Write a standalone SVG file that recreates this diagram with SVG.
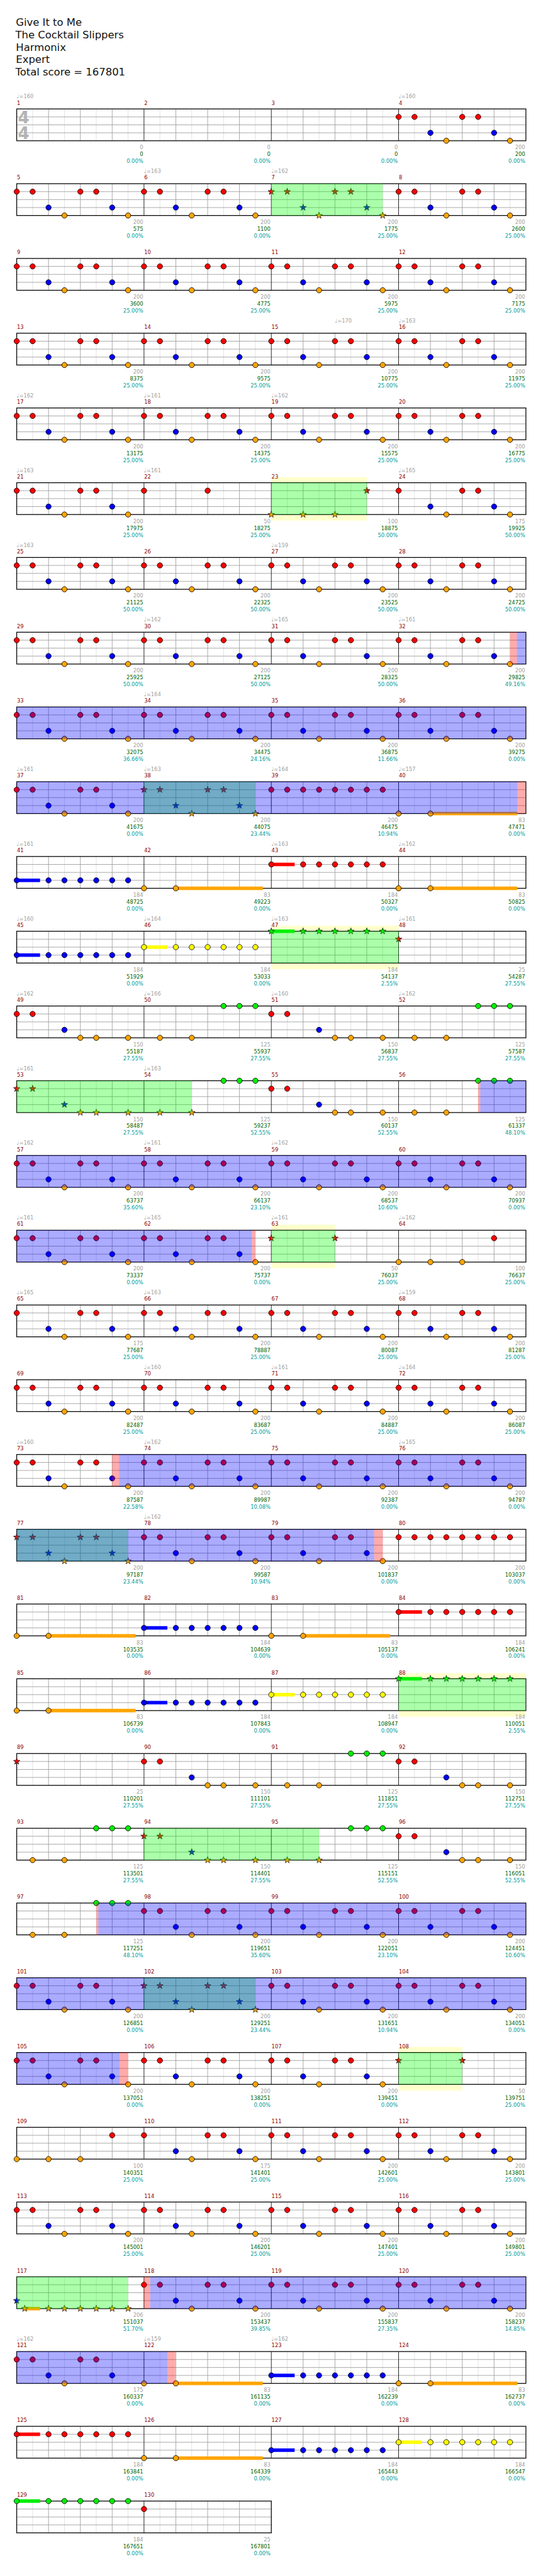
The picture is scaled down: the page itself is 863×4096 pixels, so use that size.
<svg xmlns="http://www.w3.org/2000/svg" width="863" height="4096" viewBox="0 0 863 4096">
<style>
text{font-family:"DejaVu Sans Condensed","DejaVu Sans",sans-serif;font-size:11px}
.ti{font-family:"DejaVu Sans",sans-serif;font-size:19.5px;fill:#111}
.m{fill:#8b0000}
.t{fill:#a0a0a0}
.g{fill:#a0a0a0;text-anchor:end}
.s{fill:#006400;text-anchor:end}
.p{fill:#009c9c;text-anchor:end}
.ts{font-family:"DejaVu Sans",sans-serif;font-size:31px;font-weight:bold;fill:#b4b4b4;text-anchor:middle}
.bl{fill:#00f;fill-opacity:.33}
.gr{fill:#0f0;fill-opacity:.33}
.pk{fill:#f00;fill-opacity:.33}
.ye{fill:#ff0;fill-opacity:.2}
</style>
<defs>
<g id="staff">
<rect x="31.5" y="0" width="960" height="60" fill="#fff"/>
<path d="M61.5 0V60M121.5 0V60M181.5 0V60M241.5 0V60M301.5 0V60M361.5 0V60M421.5 0V60M481.5 0V60M541.5 0V60M601.5 0V60M661.5 0V60M721.5 0V60M781.5 0V60M841.5 0V60M901.5 0V60M961.5 0V60" stroke="#ddd" fill="none"/>
<path d="M91.5 0V60M151.5 0V60M211.5 0V60M331.5 0V60M391.5 0V60M451.5 0V60M571.5 0V60M631.5 0V60M691.5 0V60M811.5 0V60M871.5 0V60M931.5 0V60" stroke="#999" fill="none"/>
<path d="M31.5 15H991.5M31.5 30H991.5M31.5 45H991.5" stroke="#999" fill="none"/>
<path d="M271.5 0V60M511.5 0V60M751.5 0V60" stroke="#000" fill="none"/>
<rect x="31.5" y="0" width="960" height="60" fill="none" stroke="#000" stroke-width="1.5"/>
</g>
<g id="staff2">
<rect x="31.5" y="0" width="480" height="60" fill="#fff"/>
<path d="M61.5 0V60M121.5 0V60M181.5 0V60M241.5 0V60M301.5 0V60M361.5 0V60M421.5 0V60M481.5 0V60" stroke="#ddd" fill="none"/>
<path d="M91.5 0V60M151.5 0V60M211.5 0V60M331.5 0V60M391.5 0V60M451.5 0V60" stroke="#999" fill="none"/>
<path d="M31.5 15H511.5M31.5 30H511.5M31.5 45H511.5" stroke="#999" fill="none"/>
<path d="M271.5 0V60" stroke="#000" fill="none"/>
<rect x="31.5" y="0" width="480" height="60" fill="none" stroke="#000" stroke-width="1.5"/>
</g>
<circle id="R" cy="15" r="5" fill="#f00" stroke="#000"/>
<circle id="Y" cy="30" r="5" fill="#ff0" stroke="#000"/>
<circle id="B" cy="45" r="5" fill="#00f" stroke="#000"/>
<circle id="O" cy="60" r="5" fill="#ffa500" stroke="#000"/>
<circle id="G" cy="0" r="5" fill="#0e0" stroke="#000"/>
<polygon id="st" points="0,-6.5 1.53,-2.1 6.18,-2.01 2.47,0.8 3.82,5.26 0,2.6 -3.82,5.26 -2.47,0.8 -6.18,-2.01 -1.53,-2.1" stroke="#000" stroke-width=".8"/>
<use id="SR" href="#st" y="15" fill="#f00"/>
<use id="SY" href="#st" y="30" fill="#ff0"/>
<use id="SB" href="#st" y="45" fill="#00f"/>
<use id="SO" href="#st" y="60" fill="#ffa500"/>
<use id="SG" href="#st" y="0" fill="#0e0"/>
<g id="A"><use href="#R"/><use href="#R" x="30"/><use href="#B" x="60"/><use href="#O" x="90"/><use href="#R" x="120"/><use href="#R" x="150"/><use href="#B" x="180"/><use href="#O" x="210"/></g>
<g id="A7"><use href="#R"/><use href="#B" x="60"/><use href="#O" x="90"/><use href="#R" x="120"/><use href="#R" x="150"/><use href="#B" x="180"/><use href="#O" x="210"/></g>
<g id="AS"><use href="#SR"/><use href="#SR" x="30"/><use href="#SB" x="60"/><use href="#SO" x="90"/><use href="#SR" x="120"/><use href="#SR" x="150"/><use href="#SB" x="180"/><use href="#SO" x="210"/></g>
<g id="R8"><use href="#R"/><use href="#R" x="30"/><use href="#R" x="60"/><use href="#R" x="90"/><use href="#R" x="120"/><use href="#R" x="150"/><use href="#R" x="180"/><use href="#R" x="210"/></g>
<g id="BR"><rect x="0" y="41.7" width="44" height="6.6" fill="#00f"/><use href="#B"/><use href="#B" x="60"/><use href="#B" x="90"/><use href="#B" x="120"/><use href="#B" x="150"/><use href="#B" x="180"/><use href="#B" x="210"/></g>
<g id="RR"><rect x="0" y="11.7" width="44" height="6.6" fill="#f00"/><use href="#R"/><use href="#R" x="60"/><use href="#R" x="90"/><use href="#R" x="120"/><use href="#R" x="150"/><use href="#R" x="180"/><use href="#R" x="210"/></g>
<g id="YR"><rect x="0" y="26.7" width="44" height="6.6" fill="#ff0"/><use href="#Y"/><use href="#Y" x="60"/><use href="#Y" x="90"/><use href="#Y" x="120"/><use href="#Y" x="150"/><use href="#Y" x="180"/><use href="#Y" x="210"/></g>
<g id="GSR"><rect x="0" y="-3.3" width="44" height="6.6" fill="#0e0"/><use href="#SG"/><use href="#SG" x="60"/><use href="#SG" x="90"/><use href="#SG" x="120"/><use href="#SG" x="150"/><use href="#SG" x="180"/><use href="#SG" x="210"/></g>
<g id="GRL"><rect x="0" y="-3.3" width="44" height="6.6" fill="#0e0"/><use href="#G"/><use href="#G" x="60"/><use href="#G" x="90"/><use href="#G" x="120"/><use href="#G" x="150"/><use href="#G" x="180"/><use href="#G" x="210"/></g>
<g id="OS"><rect x="60" y="56.7" width="164" height="6.6" fill="#ffa500"/><use href="#O"/><use href="#O" x="60"/></g>
<g id="P1"><use href="#R"/><use href="#R" x="30"/><use href="#B" x="90"/><use href="#O" x="120"/><use href="#O" x="150"/><use href="#O" x="210"/></g>
<g id="P2"><use href="#O" x="30"/><use href="#O" x="90"/><use href="#G" x="150"/><use href="#G" x="180"/><use href="#G" x="210"/></g>
<g id="P1S"><use href="#SR"/><use href="#SR" x="30"/><use href="#SB" x="90"/><use href="#SO" x="120"/><use href="#SO" x="150"/><use href="#SO" x="210"/></g>
<g id="P2S"><use href="#SO" x="30"/><use href="#SO" x="90"/><use href="#G" x="150"/><use href="#G" x="180"/><use href="#G" x="210"/></g>
<g id="OOOR"><use href="#O"/><use href="#O" x="60"/><use href="#O" x="120"/><use href="#R" x="180"/></g>
</defs>
<g transform="scale(0.843)">
<rect x="0" y="0" width="1024" height="4858" fill="#fff"/>
<g id="header">
<text class="ti" x="30" y="49">Give It to Me</text>
<text class="ti" x="29" y="72.5">The Cocktail Slippers</text>
<text class="ti" x="30" y="96">Harmonix</text>
<text class="ti" x="30" y="119">Expert</text>
<text class="ti" x="29" y="142.5">Total score = 167801</text>
</g>

<g id="row1" transform="translate(0,205.5)">
<use href="#staff"/>
<text class="ts" x="44.5" y="27">4</text><text class="ts" x="44.5" y="57">4</text>
<use href="#A" x="751.5"/>
<text class="t" x="31.5" y="-20">♩=160</text><text class="t" x="751.5" y="-20">♩=160</text>
<text class="m" x="32" y="-8">1</text><text class="m" x="272" y="-8">2</text><text class="m" x="512" y="-8">3</text><text class="m" x="752" y="-8">4</text>
<text class="g" x="270" y="76">0</text><text class="s" x="270" y="89">0</text><text class="p" x="270" y="102">0.00%</text>
<text class="g" x="510" y="76">0</text><text class="s" x="510" y="89">0</text><text class="p" x="510" y="102">0.00%</text>
<text class="g" x="750" y="76">0</text><text class="s" x="750" y="89">0</text><text class="p" x="750" y="102">0.00%</text>
<text class="g" x="990" y="76">200</text><text class="s" x="990" y="89">200</text><text class="p" x="990" y="102">0.00%</text>
</g>

<g id="row2" transform="translate(0,346.5)">
<use href="#staff"/>
<use href="#A" x="31.5"/><use href="#A" x="271.5"/><use href="#AS" x="511.5"/><use href="#A" x="751.5"/>
<rect class="gr" x="511.5" y="0" width="210" height="60"/>
<text class="t" x="271.5" y="-20">♩=163</text><text class="t" x="511.5" y="-20">♩=162</text>
<text class="m" x="32" y="-8">5</text><text class="m" x="272" y="-8">6</text><text class="m" x="512" y="-8">7</text><text class="m" x="752" y="-8">8</text>
<text class="g" x="270" y="76">200</text><text class="s" x="270" y="89">575</text><text class="p" x="270" y="102">0.00%</text>
<text class="g" x="510" y="76">200</text><text class="s" x="510" y="89">1100</text><text class="p" x="510" y="102">0.00%</text>
<text class="g" x="750" y="76">200</text><text class="s" x="750" y="89">1775</text><text class="p" x="750" y="102">25.00%</text>
<text class="g" x="990" y="76">200</text><text class="s" x="990" y="89">2600</text><text class="p" x="990" y="102">25.00%</text>
</g>

<g id="row3" transform="translate(0,487.5)">
<use href="#staff"/>
<use href="#A" x="31.5"/><use href="#A" x="271.5"/><use href="#A" x="511.5"/><use href="#A" x="751.5"/>
<text class="m" x="32" y="-8">9</text><text class="m" x="272" y="-8">10</text><text class="m" x="512" y="-8">11</text><text class="m" x="752" y="-8">12</text>
<text class="g" x="270" y="76">200</text><text class="s" x="270" y="89">3600</text><text class="p" x="270" y="102">25.00%</text>
<text class="g" x="510" y="76">200</text><text class="s" x="510" y="89">4775</text><text class="p" x="510" y="102">25.00%</text>
<text class="g" x="750" y="76">200</text><text class="s" x="750" y="89">5975</text><text class="p" x="750" y="102">25.00%</text>
<text class="g" x="990" y="76">200</text><text class="s" x="990" y="89">7175</text><text class="p" x="990" y="102">25.00%</text>
</g>

<g id="row4" transform="translate(0,628.5)">
<use href="#staff"/>
<use href="#A" x="31.5"/><use href="#A" x="271.5"/><use href="#A" x="511.5"/><use href="#A" x="751.5"/>
<text class="t" x="631.5" y="-20">♩=170</text><text class="t" x="751.5" y="-20">♩=163</text>
<text class="m" x="32" y="-8">13</text><text class="m" x="272" y="-8">14</text><text class="m" x="512" y="-8">15</text><text class="m" x="752" y="-8">16</text>
<text class="g" x="270" y="76">200</text><text class="s" x="270" y="89">8375</text><text class="p" x="270" y="102">25.00%</text>
<text class="g" x="510" y="76">200</text><text class="s" x="510" y="89">9575</text><text class="p" x="510" y="102">25.00%</text>
<text class="g" x="750" y="76">200</text><text class="s" x="750" y="89">10775</text><text class="p" x="750" y="102">25.00%</text>
<text class="g" x="990" y="76">200</text><text class="s" x="990" y="89">11975</text><text class="p" x="990" y="102">25.00%</text>
</g>

<g id="row5" transform="translate(0,769.5)">
<use href="#staff"/>
<use href="#A" x="31.5"/><use href="#A" x="271.5"/><use href="#A" x="511.5"/><use href="#A" x="751.5"/>
<text class="t" x="31.5" y="-20">♩=162</text><text class="t" x="271.5" y="-20">♩=161</text><text class="t" x="511.5" y="-20">♩=162</text>
<text class="m" x="32" y="-8">17</text><text class="m" x="272" y="-8">18</text><text class="m" x="512" y="-8">19</text><text class="m" x="752" y="-8">20</text>
<text class="g" x="270" y="76">200</text><text class="s" x="270" y="89">13175</text><text class="p" x="270" y="102">25.00%</text>
<text class="g" x="510" y="76">200</text><text class="s" x="510" y="89">14375</text><text class="p" x="510" y="102">25.00%</text>
<text class="g" x="750" y="76">200</text><text class="s" x="750" y="89">15575</text><text class="p" x="750" y="102">25.00%</text>
<text class="g" x="990" y="76">200</text><text class="s" x="990" y="89">16775</text><text class="p" x="990" y="102">25.00%</text>
</g>

<g id="row6" transform="translate(0,910.5)">
<rect class="ye" x="511.5" y="-10.5" width="180" height="82"/>
<use href="#staff"/>
<use href="#A" x="31.5"/>
<use href="#R" x="271.5"/><use href="#R" x="391.5"/>
<use href="#SO" x="511.5"/><use href="#SO" x="571.5"/><use href="#SO" x="631.5"/><use href="#SR" x="691.5"/>
<use href="#A7" x="751.5"/>
<rect class="gr" x="511.5" y="0" width="180" height="60"/>
<text class="t" x="31.5" y="-20">♩=163</text><text class="t" x="271.5" y="-20">♩=161</text><text class="t" x="751.5" y="-20">♩=165</text>
<text class="m" x="32" y="-8">21</text><text class="m" x="272" y="-8">22</text><text class="m" x="512" y="-8">23</text><text class="m" x="752" y="-8">24</text>
<text class="g" x="270" y="76">200</text><text class="s" x="270" y="89">17975</text><text class="p" x="270" y="102">25.00%</text>
<text class="g" x="510" y="76">50</text><text class="s" x="510" y="89">18275</text><text class="p" x="510" y="102">25.00%</text>
<text class="g" x="750" y="76">100</text><text class="s" x="750" y="89">18875</text><text class="p" x="750" y="102">50.00%</text>
<text class="g" x="990" y="76">175</text><text class="s" x="990" y="89">19925</text><text class="p" x="990" y="102">50.00%</text>
</g>

<g id="row7" transform="translate(0,1051.5)">
<use href="#staff"/>
<use href="#A" x="31.5"/><use href="#A" x="271.5"/><use href="#A" x="511.5"/><use href="#A" x="751.5"/>
<text class="t" x="31.5" y="-20">♩=163</text><text class="t" x="511.5" y="-20">♩=159</text>
<text class="m" x="32" y="-8">25</text><text class="m" x="272" y="-8">26</text><text class="m" x="512" y="-8">27</text><text class="m" x="752" y="-8">28</text>
<text class="g" x="270" y="76">200</text><text class="s" x="270" y="89">21125</text><text class="p" x="270" y="102">50.00%</text>
<text class="g" x="510" y="76">200</text><text class="s" x="510" y="89">22325</text><text class="p" x="510" y="102">50.00%</text>
<text class="g" x="750" y="76">200</text><text class="s" x="750" y="89">23525</text><text class="p" x="750" y="102">50.00%</text>
<text class="g" x="990" y="76">200</text><text class="s" x="990" y="89">24725</text><text class="p" x="990" y="102">50.00%</text>
</g>

<g id="row8" transform="translate(0,1192.5)">
<use href="#staff"/>
<use href="#A" x="31.5"/><use href="#A" x="271.5"/><use href="#A" x="511.5"/><use href="#A" x="751.5"/>
<rect class="pk" x="961.5" y="0" width="13" height="60"/><rect class="bl" x="974.5" y="0" width="17" height="60"/>
<text class="t" x="271.5" y="-20">♩=162</text><text class="t" x="511.5" y="-20">♩=165</text><text class="t" x="751.5" y="-20">♩=161</text>
<text class="m" x="32" y="-8">29</text><text class="m" x="272" y="-8">30</text><text class="m" x="512" y="-8">31</text><text class="m" x="752" y="-8">32</text>
<text class="g" x="270" y="76">200</text><text class="s" x="270" y="89">25925</text><text class="p" x="270" y="102">50.00%</text>
<text class="g" x="510" y="76">200</text><text class="s" x="510" y="89">27125</text><text class="p" x="510" y="102">50.00%</text>
<text class="g" x="750" y="76">200</text><text class="s" x="750" y="89">28325</text><text class="p" x="750" y="102">50.00%</text>
<text class="g" x="990" y="76">200</text><text class="s" x="990" y="89">29825</text><text class="p" x="990" y="102">49.16%</text>
</g>

<g id="row9" transform="translate(0,1333.5)">
<use href="#staff"/>
<use href="#A" x="31.5"/><use href="#A" x="271.5"/><use href="#A" x="511.5"/><use href="#A" x="751.5"/>
<rect class="bl" x="31.5" y="0" width="960" height="60"/>
<text class="t" x="271.5" y="-20">♩=164</text>
<text class="m" x="32" y="-8">33</text><text class="m" x="272" y="-8">34</text><text class="m" x="512" y="-8">35</text><text class="m" x="752" y="-8">36</text>
<text class="g" x="270" y="76">200</text><text class="s" x="270" y="89">32075</text><text class="p" x="270" y="102">36.66%</text>
<text class="g" x="510" y="76">200</text><text class="s" x="510" y="89">34475</text><text class="p" x="510" y="102">24.16%</text>
<text class="g" x="750" y="76">200</text><text class="s" x="750" y="89">36875</text><text class="p" x="750" y="102">11.66%</text>
<text class="g" x="990" y="76">200</text><text class="s" x="990" y="89">39275</text><text class="p" x="990" y="102">0.00%</text>
</g>

<g id="row10" transform="translate(0,1474.5)">
<use href="#staff"/>
<use href="#A" x="31.5"/><use href="#AS" x="271.5"/><use href="#R8" x="511.5"/>
<rect x="811.5" y="56.7" width="164" height="6.6" fill="#ffa500"/><use href="#O" x="751.5"/><use href="#O" x="811.5"/>
<rect class="gr" x="271.5" y="0" width="210" height="60"/>
<rect class="bl" x="31.5" y="0" width="944" height="60"/>
<rect class="pk" x="975.5" y="0" width="16" height="60"/>
<text class="t" x="31.5" y="-20">♩=161</text><text class="t" x="271.5" y="-20">♩=163</text><text class="t" x="511.5" y="-20">♩=164</text><text class="t" x="751.5" y="-20">♩=157</text>
<text class="m" x="32" y="-8">37</text><text class="m" x="272" y="-8">38</text><text class="m" x="512" y="-8">39</text><text class="m" x="752" y="-8">40</text>
<text class="g" x="270" y="76">200</text><text class="s" x="270" y="89">41675</text><text class="p" x="270" y="102">0.00%</text>
<text class="g" x="510" y="76">200</text><text class="s" x="510" y="89">44075</text><text class="p" x="510" y="102">23.44%</text>
<text class="g" x="750" y="76">200</text><text class="s" x="750" y="89">46475</text><text class="p" x="750" y="102">10.94%</text>
<text class="g" x="990" y="76">83</text><text class="s" x="990" y="89">47471</text><text class="p" x="990" y="102">0.00%</text>
</g>

<g id="row11" transform="translate(0,1615.5)">
<use href="#staff"/>
<use href="#BR" x="31.5"/><use href="#OS" x="271.5"/><use href="#RR" x="511.5"/><use href="#OS" x="751.5"/>
<text class="t" x="31.5" y="-20">♩=161</text><text class="t" x="511.5" y="-20">♩=163</text><text class="t" x="751.5" y="-20">♩=162</text>
<text class="m" x="32" y="-8">41</text><text class="m" x="272" y="-8">42</text><text class="m" x="512" y="-8">43</text><text class="m" x="752" y="-8">44</text>
<text class="g" x="270" y="76">184</text><text class="s" x="270" y="89">48725</text><text class="p" x="270" y="102">0.00%</text>
<text class="g" x="510" y="76">83</text><text class="s" x="510" y="89">49223</text><text class="p" x="510" y="102">0.00%</text>
<text class="g" x="750" y="76">184</text><text class="s" x="750" y="89">50327</text><text class="p" x="750" y="102">0.00%</text>
<text class="g" x="990" y="76">83</text><text class="s" x="990" y="89">50825</text><text class="p" x="990" y="102">0.00%</text>
</g>

<g id="row12" transform="translate(0,1756.5)">
<rect class="ye" x="511.5" y="-10.5" width="240" height="82"/>
<use href="#staff"/>
<use href="#BR" x="31.5"/><use href="#YR" x="271.5"/><use href="#GSR" x="511.5"/><use href="#SR" x="751.5"/>
<rect class="gr" x="511.5" y="0" width="240" height="60"/>
<text class="t" x="31.5" y="-20">♩=160</text><text class="t" x="271.5" y="-20">♩=164</text><text class="t" x="511.5" y="-20">♩=163</text><text class="t" x="751.5" y="-20">♩=161</text>
<text class="m" x="32" y="-8">45</text><text class="m" x="272" y="-8">46</text><text class="m" x="512" y="-8">47</text><text class="m" x="752" y="-8">48</text>
<text class="g" x="270" y="76">184</text><text class="s" x="270" y="89">51929</text><text class="p" x="270" y="102">0.00%</text>
<text class="g" x="510" y="76">184</text><text class="s" x="510" y="89">53033</text><text class="p" x="510" y="102">0.00%</text>
<text class="g" x="750" y="76">184</text><text class="s" x="750" y="89">54137</text><text class="p" x="750" y="102">2.55%</text>
<text class="g" x="990" y="76">25</text><text class="s" x="990" y="89">54287</text><text class="p" x="990" y="102">27.55%</text>
</g>

<g id="row13" transform="translate(0,1897.5)">
<use href="#staff"/>
<use href="#P1" x="31.5"/><use href="#P2" x="271.5"/><use href="#P1" x="511.5"/><use href="#P2" x="751.5"/>
<text class="t" x="31.5" y="-20">♩=162</text><text class="t" x="271.5" y="-20">♩=166</text><text class="t" x="511.5" y="-20">♩=160</text><text class="t" x="751.5" y="-20">♩=162</text>
<text class="m" x="32" y="-8">49</text><text class="m" x="272" y="-8">50</text><text class="m" x="512" y="-8">51</text><text class="m" x="752" y="-8">52</text>
<text class="g" x="270" y="76">150</text><text class="s" x="270" y="89">55187</text><text class="p" x="270" y="102">27.55%</text>
<text class="g" x="510" y="76">125</text><text class="s" x="510" y="89">55937</text><text class="p" x="510" y="102">27.55%</text>
<text class="g" x="750" y="76">150</text><text class="s" x="750" y="89">56837</text><text class="p" x="750" y="102">27.55%</text>
<text class="g" x="990" y="76">125</text><text class="s" x="990" y="89">57587</text><text class="p" x="990" y="102">27.55%</text>
</g>

<g id="row14" transform="translate(0,2038.5)">
<use href="#staff"/>
<use href="#P1S" x="31.5"/><use href="#P2S" x="271.5"/><use href="#P1" x="511.5"/><use href="#P2" x="751.5"/>
<rect class="gr" x="31.5" y="0" width="330" height="60"/>
<rect class="pk" x="901.5" y="0" width="4" height="60"/><rect class="bl" x="905.5" y="0" width="86" height="60"/>
<text class="t" x="31.5" y="-20">♩=161</text><text class="t" x="271.5" y="-20">♩=163</text>
<text class="m" x="32" y="-8">53</text><text class="m" x="272" y="-8">54</text><text class="m" x="512" y="-8">55</text><text class="m" x="752" y="-8">56</text>
<text class="g" x="270" y="76">150</text><text class="s" x="270" y="89">58487</text><text class="p" x="270" y="102">27.55%</text>
<text class="g" x="510" y="76">125</text><text class="s" x="510" y="89">59237</text><text class="p" x="510" y="102">52.55%</text>
<text class="g" x="750" y="76">150</text><text class="s" x="750" y="89">60137</text><text class="p" x="750" y="102">52.55%</text>
<text class="g" x="990" y="76">125</text><text class="s" x="990" y="89">61337</text><text class="p" x="990" y="102">48.10%</text>
</g>

<g id="row15" transform="translate(0,2179.5)">
<use href="#staff"/>
<use href="#A" x="31.5"/><use href="#A" x="271.5"/><use href="#A" x="511.5"/><use href="#A" x="751.5"/>
<rect class="bl" x="31.5" y="0" width="960" height="60"/>
<text class="t" x="31.5" y="-20">♩=162</text><text class="t" x="271.5" y="-20">♩=161</text><text class="t" x="511.5" y="-20">♩=162</text>
<text class="m" x="32" y="-8">57</text><text class="m" x="272" y="-8">58</text><text class="m" x="512" y="-8">59</text><text class="m" x="752" y="-8">60</text>
<text class="g" x="270" y="76">200</text><text class="s" x="270" y="89">63737</text><text class="p" x="270" y="102">35.60%</text>
<text class="g" x="510" y="76">200</text><text class="s" x="510" y="89">66137</text><text class="p" x="510" y="102">23.10%</text>
<text class="g" x="750" y="76">200</text><text class="s" x="750" y="89">68537</text><text class="p" x="750" y="102">10.60%</text>
<text class="g" x="990" y="76">200</text><text class="s" x="990" y="89">70937</text><text class="p" x="990" y="102">0.00%</text>
</g>

<g id="row16" transform="translate(0,2320.5)">
<rect class="ye" x="511.5" y="-10.5" width="120" height="82"/>
<use href="#staff"/>
<use href="#A" x="31.5"/><use href="#A" x="271.5"/>
<use href="#SR" x="511.5"/><use href="#SR" x="631.5"/>
<use href="#OOOR" x="751.5"/>
<rect class="bl" x="31.5" y="0" width="443.5" height="60"/><rect class="pk" x="475" y="0" width="6.5" height="60"/>
<rect class="gr" x="511.5" y="0" width="120" height="60"/>
<text class="t" x="31.5" y="-20">♩=161</text><text class="t" x="271.5" y="-20">♩=165</text><text class="t" x="511.5" y="-20">♩=161</text><text class="t" x="751.5" y="-20">♩=162</text>
<text class="m" x="32" y="-8">61</text><text class="m" x="272" y="-8">62</text><text class="m" x="512" y="-8">63</text><text class="m" x="752" y="-8">64</text>
<text class="g" x="270" y="76">200</text><text class="s" x="270" y="89">73337</text><text class="p" x="270" y="102">0.00%</text>
<text class="g" x="510" y="76">200</text><text class="s" x="510" y="89">75737</text><text class="p" x="510" y="102">0.00%</text>
<text class="g" x="750" y="76">50</text><text class="s" x="750" y="89">76037</text><text class="p" x="750" y="102">25.00%</text>
<text class="g" x="990" y="76">100</text><text class="s" x="990" y="89">76637</text><text class="p" x="990" y="102">25.00%</text>
</g>

<g id="row17" transform="translate(0,2461.5)">
<use href="#staff"/>
<use href="#A7" x="31.5"/><use href="#A" x="271.5"/><use href="#A" x="511.5"/><use href="#A" x="751.5"/>
<text class="t" x="31.5" y="-20">♩=165</text><text class="t" x="271.5" y="-20">♩=163</text><text class="t" x="751.5" y="-20">♩=159</text>
<text class="m" x="32" y="-8">65</text><text class="m" x="272" y="-8">66</text><text class="m" x="512" y="-8">67</text><text class="m" x="752" y="-8">68</text>
<text class="g" x="270" y="76">175</text><text class="s" x="270" y="89">77687</text><text class="p" x="270" y="102">25.00%</text>
<text class="g" x="510" y="76">200</text><text class="s" x="510" y="89">78887</text><text class="p" x="510" y="102">25.00%</text>
<text class="g" x="750" y="76">200</text><text class="s" x="750" y="89">80087</text><text class="p" x="750" y="102">25.00%</text>
<text class="g" x="990" y="76">200</text><text class="s" x="990" y="89">81287</text><text class="p" x="990" y="102">25.00%</text>
</g>

<g id="row18" transform="translate(0,2602.5)">
<use href="#staff"/>
<use href="#A" x="31.5"/><use href="#A" x="271.5"/><use href="#A" x="511.5"/><use href="#A" x="751.5"/>
<text class="t" x="271.5" y="-20">♩=160</text><text class="t" x="511.5" y="-20">♩=161</text><text class="t" x="751.5" y="-20">♩=164</text>
<text class="m" x="32" y="-8">69</text><text class="m" x="272" y="-8">70</text><text class="m" x="512" y="-8">71</text><text class="m" x="752" y="-8">72</text>
<text class="g" x="270" y="76">200</text><text class="s" x="270" y="89">82487</text><text class="p" x="270" y="102">25.00%</text>
<text class="g" x="510" y="76">200</text><text class="s" x="510" y="89">83687</text><text class="p" x="510" y="102">25.00%</text>
<text class="g" x="750" y="76">200</text><text class="s" x="750" y="89">84887</text><text class="p" x="750" y="102">25.00%</text>
<text class="g" x="990" y="76">200</text><text class="s" x="990" y="89">86087</text><text class="p" x="990" y="102">25.00%</text>
</g>

<g id="row19" transform="translate(0,2743.5)">
<use href="#staff"/>
<use href="#A" x="31.5"/><use href="#A" x="271.5"/><use href="#A" x="511.5"/><use href="#A" x="751.5"/>
<rect class="pk" x="211.5" y="0" width="13" height="60"/><rect class="bl" x="224.5" y="0" width="767" height="60"/>
<text class="t" x="31.5" y="-20">♩=160</text><text class="t" x="271.5" y="-20">♩=162</text><text class="t" x="751.5" y="-20">♩=165</text>
<text class="m" x="32" y="-8">73</text><text class="m" x="272" y="-8">74</text><text class="m" x="512" y="-8">75</text><text class="m" x="752" y="-8">76</text>
<text class="g" x="270" y="76">200</text><text class="s" x="270" y="89">87587</text><text class="p" x="270" y="102">22.58%</text>
<text class="g" x="510" y="76">200</text><text class="s" x="510" y="89">89987</text><text class="p" x="510" y="102">10.08%</text>
<text class="g" x="750" y="76">200</text><text class="s" x="750" y="89">92387</text><text class="p" x="750" y="102">0.00%</text>
<text class="g" x="990" y="76">200</text><text class="s" x="990" y="89">94787</text><text class="p" x="990" y="102">0.00%</text>
</g>

<g id="row20" transform="translate(0,2884.5)">
<use href="#staff"/>
<use href="#AS" x="31.5"/><use href="#A" x="271.5"/><use href="#A" x="511.5"/><use href="#R8" x="751.5"/>
<rect class="gr" x="31.5" y="0" width="210" height="60"/>
<rect class="bl" x="31.5" y="0" width="674" height="60"/><rect class="pk" x="705.5" y="0" width="16" height="60"/>
<text class="t" x="271.5" y="-20">♩=162</text>
<text class="m" x="32" y="-8">77</text><text class="m" x="272" y="-8">78</text><text class="m" x="512" y="-8">79</text><text class="m" x="752" y="-8">80</text>
<text class="g" x="270" y="76">200</text><text class="s" x="270" y="89">97187</text><text class="p" x="270" y="102">23.44%</text>
<text class="g" x="510" y="76">200</text><text class="s" x="510" y="89">99587</text><text class="p" x="510" y="102">10.94%</text>
<text class="g" x="750" y="76">200</text><text class="s" x="750" y="89">101837</text><text class="p" x="750" y="102">0.00%</text>
<text class="g" x="990" y="76">200</text><text class="s" x="990" y="89">103037</text><text class="p" x="990" y="102">0.00%</text>
</g>

<g id="row21" transform="translate(0,3025.5)">
<use href="#staff"/>
<use href="#OS" x="31.5"/><use href="#BR" x="271.5"/><use href="#OS" x="511.5"/><use href="#RR" x="751.5"/>
<text class="m" x="32" y="-8">81</text><text class="m" x="272" y="-8">82</text><text class="m" x="512" y="-8">83</text><text class="m" x="752" y="-8">84</text>
<text class="g" x="270" y="76">83</text><text class="s" x="270" y="89">103535</text><text class="p" x="270" y="102">0.00%</text>
<text class="g" x="510" y="76">184</text><text class="s" x="510" y="89">104639</text><text class="p" x="510" y="102">0.00%</text>
<text class="g" x="750" y="76">83</text><text class="s" x="750" y="89">105137</text><text class="p" x="750" y="102">0.00%</text>
<text class="g" x="990" y="76">184</text><text class="s" x="990" y="89">106241</text><text class="p" x="990" y="102">0.00%</text>
</g>

<g id="row22" transform="translate(0,3166.5)">
<rect class="ye" x="751.5" y="-10.5" width="240" height="82"/>
<use href="#staff"/>
<use href="#OS" x="31.5"/><use href="#BR" x="271.5"/><use href="#YR" x="511.5"/><use href="#GSR" x="751.5"/>
<rect class="gr" x="751.5" y="0" width="240" height="60"/>
<text class="m" x="32" y="-8">85</text><text class="m" x="272" y="-8">86</text><text class="m" x="512" y="-8">87</text><text class="m" x="752" y="-8">88</text>
<text class="g" x="270" y="76">83</text><text class="s" x="270" y="89">106739</text><text class="p" x="270" y="102">0.00%</text>
<text class="g" x="510" y="76">184</text><text class="s" x="510" y="89">107843</text><text class="p" x="510" y="102">0.00%</text>
<text class="g" x="750" y="76">184</text><text class="s" x="750" y="89">108947</text><text class="p" x="750" y="102">0.00%</text>
<text class="g" x="990" y="76">184</text><text class="s" x="990" y="89">110051</text><text class="p" x="990" y="102">2.55%</text>
</g>

<g id="row23" transform="translate(0,3307.5)">
<use href="#staff"/>
<use href="#SR" x="31.5"/><use href="#P1" x="271.5"/><use href="#P2" x="511.5"/><use href="#P1" x="751.5"/>
<text class="m" x="32" y="-8">89</text><text class="m" x="272" y="-8">90</text><text class="m" x="512" y="-8">91</text><text class="m" x="752" y="-8">92</text>
<text class="g" x="270" y="76">25</text><text class="s" x="270" y="89">110201</text><text class="p" x="270" y="102">27.55%</text>
<text class="g" x="510" y="76">150</text><text class="s" x="510" y="89">111101</text><text class="p" x="510" y="102">27.55%</text>
<text class="g" x="750" y="76">125</text><text class="s" x="750" y="89">111851</text><text class="p" x="750" y="102">27.55%</text>
<text class="g" x="990" y="76">150</text><text class="s" x="990" y="89">112751</text><text class="p" x="990" y="102">27.55%</text>
</g>

<g id="row24" transform="translate(0,3448.5)">
<use href="#staff"/>
<use href="#P2" x="31.5"/><use href="#P1S" x="271.5"/><use href="#P2S" x="511.5"/><use href="#P1" x="751.5"/>
<rect class="gr" x="271.5" y="0" width="330" height="60"/>
<text class="m" x="32" y="-8">93</text><text class="m" x="272" y="-8">94</text><text class="m" x="512" y="-8">95</text><text class="m" x="752" y="-8">96</text>
<text class="g" x="270" y="76">125</text><text class="s" x="270" y="89">113501</text><text class="p" x="270" y="102">27.55%</text>
<text class="g" x="510" y="76">150</text><text class="s" x="510" y="89">114401</text><text class="p" x="510" y="102">27.55%</text>
<text class="g" x="750" y="76">125</text><text class="s" x="750" y="89">115151</text><text class="p" x="750" y="102">52.55%</text>
<text class="g" x="990" y="76">150</text><text class="s" x="990" y="89">116051</text><text class="p" x="990" y="102">52.55%</text>
</g>

<g id="row25" transform="translate(0,3589.5)">
<use href="#staff"/>
<use href="#P2" x="31.5"/><use href="#A" x="271.5"/><use href="#A" x="511.5"/><use href="#A" x="751.5"/>
<rect class="pk" x="181.5" y="0" width="4" height="60"/><rect class="bl" x="185.5" y="0" width="806" height="60"/>
<text class="m" x="32" y="-8">97</text><text class="m" x="272" y="-8">98</text><text class="m" x="512" y="-8">99</text><text class="m" x="752" y="-8">100</text>
<text class="g" x="270" y="76">125</text><text class="s" x="270" y="89">117251</text><text class="p" x="270" y="102">48.10%</text>
<text class="g" x="510" y="76">200</text><text class="s" x="510" y="89">119651</text><text class="p" x="510" y="102">35.60%</text>
<text class="g" x="750" y="76">200</text><text class="s" x="750" y="89">122051</text><text class="p" x="750" y="102">23.10%</text>
<text class="g" x="990" y="76">200</text><text class="s" x="990" y="89">124451</text><text class="p" x="990" y="102">10.60%</text>
</g>

<g id="row26" transform="translate(0,3730.5)">
<use href="#staff"/>
<use href="#A" x="31.5"/><use href="#AS" x="271.5"/><use href="#A" x="511.5"/><use href="#A" x="751.5"/>
<rect class="gr" x="271.5" y="0" width="210" height="60"/>
<rect class="bl" x="31.5" y="0" width="960" height="60"/>
<text class="m" x="32" y="-8">101</text><text class="m" x="272" y="-8">102</text><text class="m" x="512" y="-8">103</text><text class="m" x="752" y="-8">104</text>
<text class="g" x="270" y="76">200</text><text class="s" x="270" y="89">126851</text><text class="p" x="270" y="102">0.00%</text>
<text class="g" x="510" y="76">200</text><text class="s" x="510" y="89">129251</text><text class="p" x="510" y="102">23.44%</text>
<text class="g" x="750" y="76">200</text><text class="s" x="750" y="89">131651</text><text class="p" x="750" y="102">10.94%</text>
<text class="g" x="990" y="76">200</text><text class="s" x="990" y="89">134051</text><text class="p" x="990" y="102">0.00%</text>
</g>

<g id="row27" transform="translate(0,3871.5)">
<rect class="ye" x="751.5" y="-10.5" width="120" height="82"/>
<use href="#staff"/>
<use href="#A" x="31.5"/><use href="#A" x="271.5"/><use href="#A" x="511.5"/>
<use href="#SR" x="751.5"/><use href="#SR" x="871.5"/>
<rect class="bl" x="31.5" y="0" width="194" height="60"/><rect class="pk" x="225.5" y="0" width="16" height="60"/>
<rect class="gr" x="751.5" y="0" width="120" height="60"/>
<text class="m" x="32" y="-8">105</text><text class="m" x="272" y="-8">106</text><text class="m" x="512" y="-8">107</text><text class="m" x="752" y="-8">108</text>
<text class="g" x="270" y="76">200</text><text class="s" x="270" y="89">137051</text><text class="p" x="270" y="102">0.00%</text>
<text class="g" x="510" y="76">200</text><text class="s" x="510" y="89">138251</text><text class="p" x="510" y="102">0.00%</text>
<text class="g" x="750" y="76">200</text><text class="s" x="750" y="89">139451</text><text class="p" x="750" y="102">0.00%</text>
<text class="g" x="990" y="76">50</text><text class="s" x="990" y="89">139751</text><text class="p" x="990" y="102">25.00%</text>
</g>

<g id="row28" transform="translate(0,4012.5)">
<use href="#staff"/>
<use href="#OOOR" x="31.5"/><use href="#A7" x="271.5"/><use href="#A" x="511.5"/><use href="#A" x="751.5"/>
<text class="m" x="32" y="-8">109</text><text class="m" x="272" y="-8">110</text><text class="m" x="512" y="-8">111</text><text class="m" x="752" y="-8">112</text>
<text class="g" x="270" y="76">100</text><text class="s" x="270" y="89">140351</text><text class="p" x="270" y="102">25.00%</text>
<text class="g" x="510" y="76">175</text><text class="s" x="510" y="89">141401</text><text class="p" x="510" y="102">25.00%</text>
<text class="g" x="750" y="76">200</text><text class="s" x="750" y="89">142601</text><text class="p" x="750" y="102">25.00%</text>
<text class="g" x="990" y="76">200</text><text class="s" x="990" y="89">143801</text><text class="p" x="990" y="102">25.00%</text>
</g>

<g id="row29" transform="translate(0,4153.5)">
<use href="#staff"/>
<use href="#A" x="31.5"/><use href="#A" x="271.5"/><use href="#A" x="511.5"/><use href="#A" x="751.5"/>
<text class="m" x="32" y="-8">113</text><text class="m" x="272" y="-8">114</text><text class="m" x="512" y="-8">115</text><text class="m" x="752" y="-8">116</text>
<text class="g" x="270" y="76">200</text><text class="s" x="270" y="89">145001</text><text class="p" x="270" y="102">25.00%</text>
<text class="g" x="510" y="76">200</text><text class="s" x="510" y="89">146201</text><text class="p" x="510" y="102">25.00%</text>
<text class="g" x="750" y="76">200</text><text class="s" x="750" y="89">147401</text><text class="p" x="750" y="102">25.00%</text>
<text class="g" x="990" y="76">200</text><text class="s" x="990" y="89">149801</text><text class="p" x="990" y="102">25.00%</text>
</g>

<g id="row30" transform="translate(0,4294.5)">
<use href="#staff"/>
<use href="#SB" x="31.5"/>
<rect x="46.5" y="56.7" width="29" height="6.6" fill="#ffa500"/>
<use href="#SO" x="46.5"/><use href="#SO" x="91.5"/><use href="#SO" x="121.5"/><use href="#SO" x="151.5"/><use href="#SO" x="181.5"/><use href="#SO" x="211.5"/><use href="#SO" x="241.5"/>
<use href="#A" x="271.5"/><use href="#A" x="511.5"/><use href="#A" x="751.5"/>
<rect class="gr" x="31.5" y="0" width="210" height="60"/>
<rect class="pk" x="271.5" y="0" width="11.5" height="60"/><rect class="bl" x="283" y="0" width="708.5" height="60"/>
<text class="m" x="32" y="-8">117</text><text class="m" x="272" y="-8">118</text><text class="m" x="512" y="-8">119</text><text class="m" x="752" y="-8">120</text>
<text class="g" x="270" y="76">206</text><text class="s" x="270" y="89">151037</text><text class="p" x="270" y="102">51.70%</text>
<text class="g" x="510" y="76">200</text><text class="s" x="510" y="89">153437</text><text class="p" x="510" y="102">39.85%</text>
<text class="g" x="750" y="76">200</text><text class="s" x="750" y="89">155837</text><text class="p" x="750" y="102">27.35%</text>
<text class="g" x="990" y="76">200</text><text class="s" x="990" y="89">158237</text><text class="p" x="990" y="102">14.85%</text>
</g>

<g id="row31" transform="translate(0,4435.5)">
<use href="#staff"/>
<use href="#R" x="31.5"/><use href="#R" x="61.5"/><use href="#B" x="91.5"/><use href="#O" x="121.5"/><use href="#R" x="151.5"/><use href="#R" x="181.5"/><use href="#B" x="211.5"/>
<use href="#OS" x="271.5"/><use href="#BR" x="511.5"/><use href="#OS" x="751.5"/>
<rect class="bl" x="31.5" y="0" width="284" height="60"/><rect class="pk" x="315.5" y="0" width="15" height="60"/>
<text class="t" x="31.5" y="-20">♩=162</text><text class="t" x="271.5" y="-20">♩=159</text><text class="t" x="511.5" y="-20">♩=162</text>
<text class="m" x="32" y="-8">121</text><text class="m" x="272" y="-8">122</text><text class="m" x="512" y="-8">123</text><text class="m" x="752" y="-8">124</text>
<text class="g" x="270" y="76">175</text><text class="s" x="270" y="89">160337</text><text class="p" x="270" y="102">0.00%</text>
<text class="g" x="510" y="76">83</text><text class="s" x="510" y="89">161135</text><text class="p" x="510" y="102">0.00%</text>
<text class="g" x="750" y="76">184</text><text class="s" x="750" y="89">162239</text><text class="p" x="750" y="102">0.00%</text>
<text class="g" x="990" y="76">83</text><text class="s" x="990" y="89">162737</text><text class="p" x="990" y="102">0.00%</text>
</g>

<g id="row32" transform="translate(0,4576.5)">
<use href="#staff"/>
<use href="#RR" x="31.5"/><use href="#OS" x="271.5"/><use href="#BR" x="511.5"/><use href="#YR" x="751.5"/>
<text class="m" x="32" y="-8">125</text><text class="m" x="272" y="-8">126</text><text class="m" x="512" y="-8">127</text><text class="m" x="752" y="-8">128</text>
<text class="g" x="270" y="76">184</text><text class="s" x="270" y="89">163841</text><text class="p" x="270" y="102">0.00%</text>
<text class="g" x="510" y="76">83</text><text class="s" x="510" y="89">164339</text><text class="p" x="510" y="102">0.00%</text>
<text class="g" x="750" y="76">184</text><text class="s" x="750" y="89">165443</text><text class="p" x="750" y="102">0.00%</text>
<text class="g" x="990" y="76">184</text><text class="s" x="990" y="89">166547</text><text class="p" x="990" y="102">0.00%</text>
</g>

<g id="row33" transform="translate(0,4717.5)">
<use href="#staff2"/>
<use href="#GRL" x="31.5"/><use href="#R" x="271.5"/>
<text class="m" x="32" y="-8">129</text><text class="m" x="272" y="-8">130</text>
<text class="g" x="270" y="76">184</text><text class="s" x="270" y="89">167651</text><text class="p" x="270" y="102">0.00%</text>
<text class="g" x="510" y="76">25</text><text class="s" x="510" y="89">167801</text><text class="p" x="510" y="102">0.00%</text>
</g>
<g id="connectors"/>
</g>
</svg>
